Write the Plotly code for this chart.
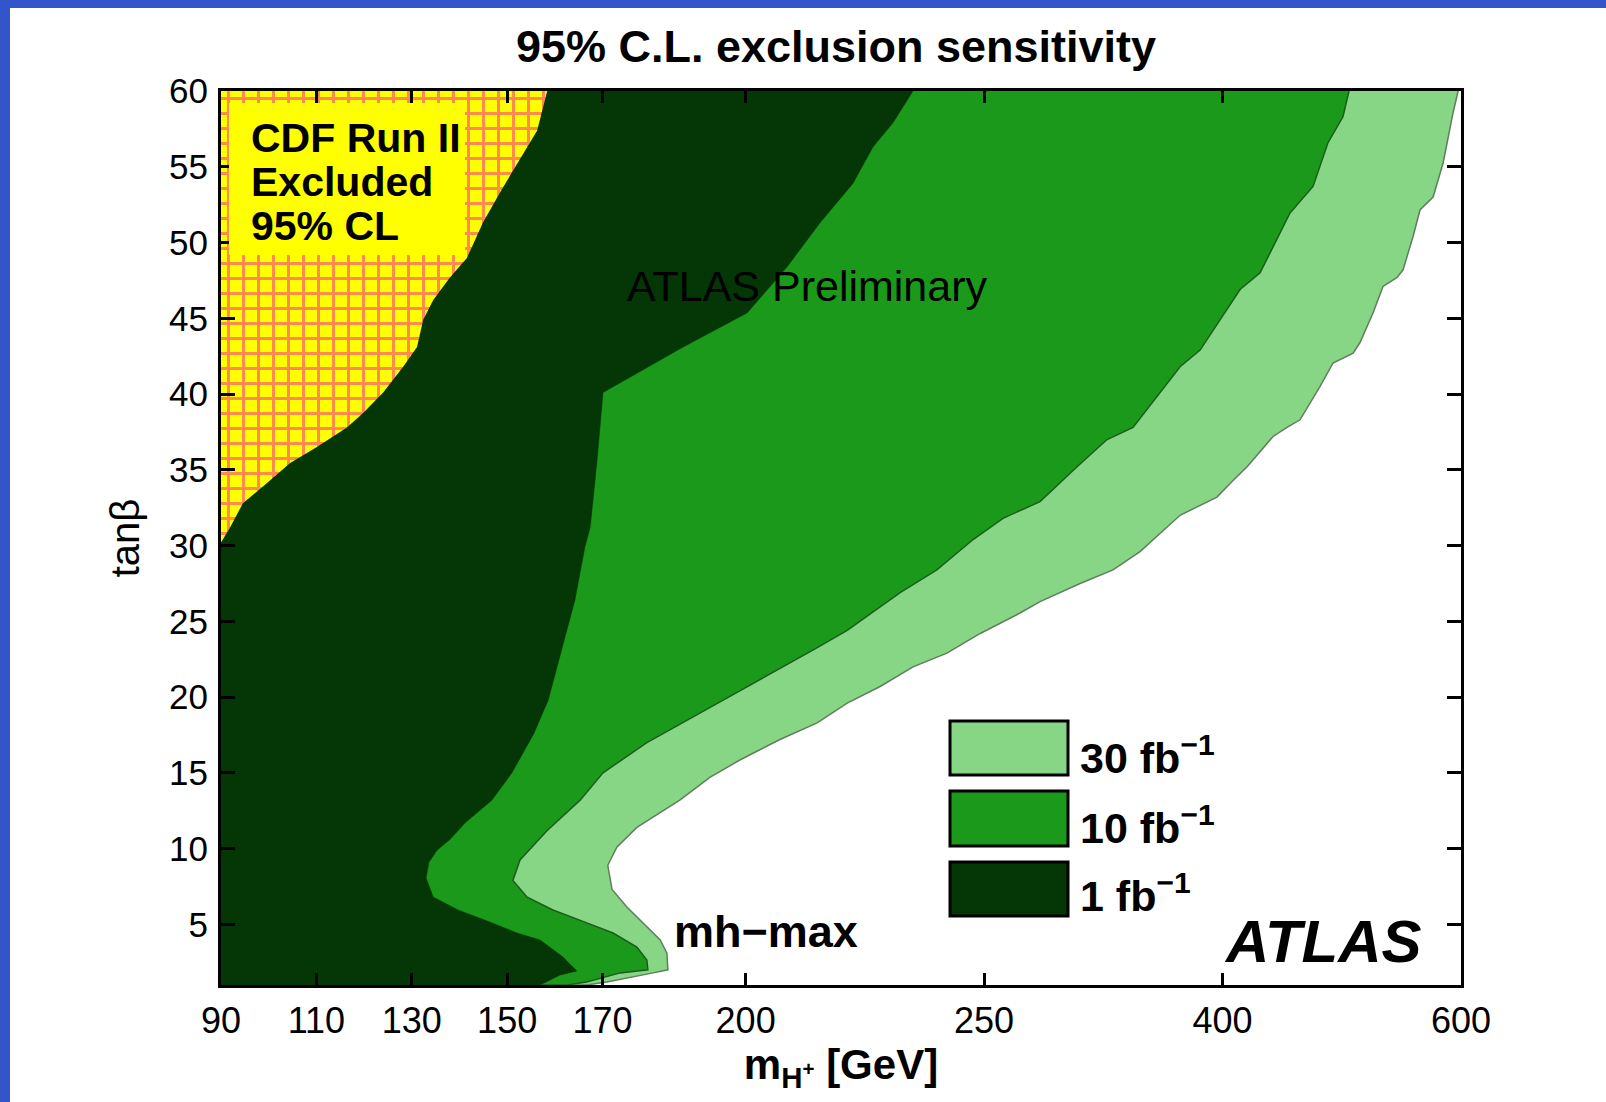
import numpy as np
import plotly.graph_objects as go

# ---------------- data ----------------
TICK_GEV = [90, 110, 130, 150, 170, 200, 250, 400, 600]
TICK_LABELS = ["90", "110", "130", "150", "170", "200", "250", "400", "600"]
TANB_TICKS = list(range(5, 61, 5))

# CDF Run II excluded region boundary (m_H+ [GeV], tan beta)
CDF_MASS = [158.4, 156.3, 152.1, 148.5, 144.9, 141.6, 138.0, 134.5, 132.4, 131.1,
            128.2, 124.0, 119.8, 116.4, 110.1, 104.5, 98.8, 94.6, 91.9, 90.0]
CDF_TANB = [60.0, 57.4, 55.2, 53.3, 51.3, 49.0, 47.7, 46.2, 44.9, 43.1,
            41.8, 40.1, 38.75, 37.8, 36.5, 35.45, 33.9, 32.8, 31.2, 30.2]

# 1 fb^-1 sensitivity boundary
L1_MASS = [235.1, 230.9, 226.7, 222.5, 215.6, 208.7, 200.3, 186.9, 170.1, 168.8,
           167.4, 166.3, 164.2, 160.9, 158.6, 155.6, 151.0, 146.8, 141.2, 138.0,
           135.3, 133.6, 133.0, 134.5, 139.7, 146.8, 152.1, 156.9, 161.7, 164.6,
           161.1, 156.9]
L1_TANB = [60.0, 57.9, 56.3, 53.9, 51.3, 48.4, 45.35, 43.1, 40.1, 35.45,
           31.2, 29.9, 26.4, 22.45, 19.8, 17.6, 15.0, 13.2, 11.7, 10.6,
           9.9, 9.1, 8.06, 6.8, 5.95, 5.1, 4.43, 3.97, 2.85, 1.93,
           1.66, 1.0]

# 10 fb^-1 sensitivity boundary
L10_MASS = [506.1, 501.0, 488.5, 475.9, 456.6, 442.4, 431.5, 414.7, 398.4, 385.9,
            373.3, 360.7, 343.7, 327.4, 308.5, 285.2, 261.9, 247.7, 240.1, 232.4,
            228.2, 221.3, 214.1, 206.6, 198.2, 189.0, 179.3, 170.1, 165.3, 158.4,
            152.7, 151.2, 154.2, 159.6, 166.7, 172.2, 177.2, 179.3, 179.5, 173.7,
            166.7, 162.6]
L10_TANB = [60.0, 58.3, 56.6, 53.7, 51.95, 49.7, 48.0, 46.9, 44.9, 42.9,
            41.8, 40.1, 37.8, 37.0, 35.2, 32.9, 31.8, 30.4, 28.4, 26.9,
            25.95, 24.4, 23.1, 21.8, 20.3, 18.7, 17.0, 15.0, 13.2, 11.2,
            9.25, 7.9, 6.8, 5.95, 5.1, 4.43, 3.5, 2.65, 2.0, 1.8,
            1.2, 1.0]

# 30 fb^-1 sensitivity boundary
L30_MASS = [597.6, 593.3, 585.0, 576.6, 565.6, 559.8, 551.4, 546.4, 534.6, 526.2,
            515.3, 509.5, 492.7, 481.8, 465.0, 454.1, 442.4, 420.6, 408.8, 396.5,
            373.3, 356.3, 348.1, 331.1, 310.4, 285.2, 272.6, 249.2, 242.2, 235.1,
            228.2, 221.3, 215.0, 207.2, 198.8, 192.5, 186.2, 177.2, 173.0, 171.1,
            172.0, 175.1, 179.3, 182.1, 183.5, 183.7, 180.6, 170.9, 166.7]
L30_TANB = [60.0, 58.55, 55.25, 53.0, 52.15, 50.4, 48.2, 47.7, 47.1, 45.35,
            43.4, 42.7, 42.05, 40.5, 38.3, 37.8, 37.2, 35.2, 34.3, 33.2,
            32.0, 30.4, 29.6, 28.4, 27.5, 26.3, 25.55, 24.2, 22.9, 22.0,
            20.7, 19.6, 18.3, 17.2, 15.85, 14.7, 13.2, 11.4, 10.1, 8.9,
            7.3, 6.15, 4.8, 3.97, 3.1, 2.0, 1.8, 1.2, 1.0]

LUMI_LABELS = ["30 fb<sup>−1</sup>", "10 fb<sup>−1</sup>", "1 fb<sup>−1</sup>"]

# ---------------- axis scale (irregular mass axis) ----------------
TICK_POS = [0, 1, 2, 3, 4, 5.5, 8, 10.5, 13]


def to_axis(m):
    return np.interp(np.asarray(m, dtype=float), TICK_GEV, TICK_POS)


X_MIN, Y_MIN, Y_MAX = TICK_GEV[0], 1.0, 60.0

FONT = "Liberation Sans, Arial, Helvetica, sans-serif"
C_DARK = "#053605"
C_MED = "#1a991a"
C_LIGHT = "#86d686"
C_YELLOW = "#ffff00"
C_HATCH = "#ff8a50"

fig = go.Figure()


def region(mass, tanb, close_pts, **kw):
    xs = list(mass) + [p[0] for p in close_pts]
    ys = list(tanb) + [p[1] for p in close_pts]
    return go.Scatter(x=to_axis(xs), y=ys, mode="lines", fill="toself",
                      hoverinfo="skip", showlegend=False, **kw)


corner = [(X_MIN, Y_MIN), (X_MIN, Y_MAX)]
fig.add_trace(region(L30_MASS, L30_TANB, corner, fillcolor=C_LIGHT,
                     line=dict(color="#5e7e5e", width=1.5), name="30 fb-1"))
fig.add_trace(region(L10_MASS, L10_TANB, corner, fillcolor=C_MED,
                     line=dict(color="#1d5c1d", width=1.5), name="10 fb-1"))
fig.add_trace(region(L1_MASS, L1_TANB, corner, fillcolor=C_DARK,
                     line=dict(color=C_DARK, width=0.5), name="1 fb-1"))
fig.add_trace(region(CDF_MASS, CDF_TANB, [(X_MIN, Y_MAX)], fillcolor=C_YELLOW,
                     line=dict(color=C_YELLOW, width=0),
                     fillpattern=dict(shape="+", size=15, solidity=0.36,
                                      fgcolor=C_HATCH, bgcolor=C_YELLOW,
                                      fillmode="replace"),
                     name="CDF"))

# ---------------- layout helpers (pixel -> paper) ----------------
L, R, T, B = 221, 1461, 91, 985
W, H = 1606, 1102


def px(x):
    return (x - L) / (R - L)


def py(y):
    return (B - y) / (B - T)


shapes = []
# blue frame of the slide
shapes.append(dict(type="rect", xref="paper", yref="paper", x0=px(0), x1=px(W),
                   y0=py(8), y1=py(0), fillcolor="#3355cc", line=dict(width=0),
                   layer="above"))
shapes.append(dict(type="rect", xref="paper", yref="paper", x0=px(0), x1=px(10),
                   y0=py(H), y1=py(0), fillcolor="#3355cc", line=dict(width=0),
                   layer="above"))
# plain yellow box behind CDF text
shapes.append(dict(type="rect", xref="paper", yref="paper", x0=px(229), x1=px(465),
                   y0=py(255), y1=py(103), fillcolor=C_YELLOW, line=dict(width=0),
                   layer="above"))

annotations = []


def text(s, x, y, size, xanchor="left", bold=False, italic=False):
    if bold:
        s = "<b>" + s + "</b>"
    if italic:
        s = "<i>" + s + "</i>"
    annotations.append(dict(text=s, x=px(x), y=py(y), xref="paper", yref="paper",
                            xanchor=xanchor, yanchor="middle", showarrow=False,
                            font=dict(size=size, family=FONT, color="black")))


text("CDF Run II", 249, 138, 41, bold=True)
text("Excluded", 249, 182, 41, bold=True)
text("95% CL", 249, 226, 41, bold=True)
text("ATLAS Preliminary", 625, 286, 43)
text("mh−max", 766, 931, 45, xanchor="center", bold=True)
text("ATLAS", 1323, 941, 60, xanchor="center", bold=True, italic=True)

# legend boxes (manual, large swatches)
leg_boxes = [(721, 775), (791, 846), (862, 916)]
leg_colors = [C_LIGHT, C_MED, C_DARK]
leg_text_y = [755, 825, 893]
for (y0, y1), col, lab, ty in zip(leg_boxes, leg_colors, LUMI_LABELS, leg_text_y):
    shapes.append(dict(type="rect", xref="paper", yref="paper", x0=px(950), x1=px(1068),
                       y0=py(y1), y1=py(y0), fillcolor=col,
                       line=dict(color="black", width=3), layer="above"))
    text(lab, 1078, ty, 43, bold=True)

fig.update_layout(
    width=W, height=H,
    margin=dict(l=L, r=W - R, t=T, b=H - B, autoexpand=False),
    paper_bgcolor="white", plot_bgcolor="white",
    showlegend=False,
    font=dict(family=FONT, color="black"),
    title=dict(text="<b>95% C.L. exclusion sensitivity</b>", x=px(836), xref="paper",
               xanchor="center", y=1 - 46 / H, yref="container", yanchor="middle",
               font=dict(size=45, family=FONT, color="black")),
    shapes=shapes, annotations=annotations,
)

fig.update_xaxes(
    range=[0, 13], tickmode="array", tickvals=to_axis(TICK_GEV), ticktext=TICK_LABELS,
    ticks="inside", ticklen=12, tickwidth=3, tickcolor="black",
    showline=True, linewidth=3, linecolor="black", mirror="ticks",
    showgrid=False, zeroline=False, automargin=False,
    tickfont=dict(size=36, family=FONT, color="black"), ticklabelstandoff=2,
    title=dict(text="<b>m<sub>H<sup>+</sup></sub> [GeV]</b>", standoff=4,
               font=dict(size=42, family=FONT, color="black")),
)
fig.update_yaxes(
    range=[Y_MIN, Y_MAX], tickmode="array", tickvals=TANB_TICKS,
    ticks="inside", ticklen=14, tickwidth=3, tickcolor="black",
    showline=True, linewidth=3, linecolor="black", mirror="ticks",
    showgrid=False, zeroline=False, automargin=False,
    tickfont=dict(size=35, family=FONT, color="black"), ticklabelstandoff=3,
    title=dict(text="tanβ", standoff=18, font=dict(size=40, family=FONT, color="black")),
)

fig.write_html("out.html")
